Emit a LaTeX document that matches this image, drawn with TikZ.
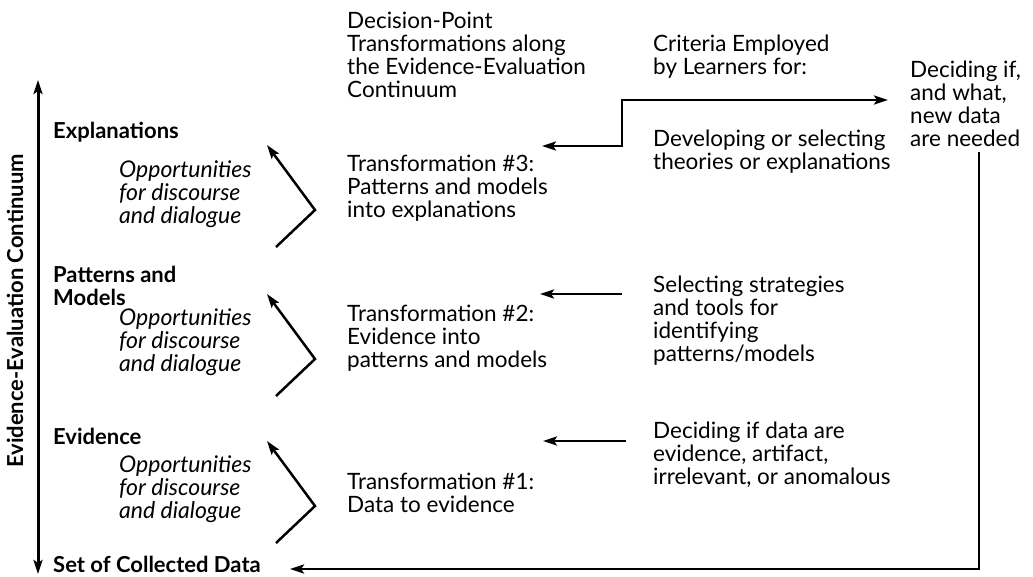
\documentclass[tikz,border=0pt]{standalone}
\usepackage{fontspec}
\setmainfont{Lato}
\usetikzlibrary{arrows.meta}

\begin{document}
\begin{tikzpicture}[x=1pt,y=-1pt,
    txt/.style={anchor=base west,align=left,inner sep=0pt,font=\fontsize{22.5}{23}\selectfont},
    lvl/.style={txt,font=\fontsize{22}{23}\selectfont\bfseries},
    opp/.style={txt,font=\fontsize{23}{23}\selectfont\itshape},
    tip/.style={-{Stealth[length=14pt,width=9pt,inset=3pt]}},
    flow/.style={line width=2.5pt,tip}]
  \useasboundingbox (0,0) rectangle (1033,576);

  \coordinate (up) at (38,80);
  \coordinate (down) at (38,574);
  \draw [line width=3pt,{Stealth[length=14pt,width=9pt,inset=3pt]}-{Stealth[length=14pt,width=9pt,inset=3pt]}] (down) -- (up);
  \node [rotate=90,inner sep=0pt,font=\fontsize{22}{23}\selectfont\bfseries] (axis) at (15,311) {Evidence-Evaluation Continuum};

  % nodes sit on the baseline of their last line
  \node [lvl] (expl) at (53,138) {Explanations};
  \node [lvl] (patt) at (53,305) {Patterns and\\Models};
  \node [lvl] (evid) at (53,444) {Evidence};
  \node [lvl] (data) at (53,572) {Set of Collected Data};

  \node [opp] (opp3) at (119,223) {Opportunities\\for discourse\\and dialogue};
  \node [opp] (opp2) at (119,371) {Opportunities\\for discourse\\and dialogue};
  \node [opp] (opp1) at (119,518) {Opportunities\\for discourse\\and dialogue};

  \node [txt] (head) at (347,97) {Decision-Point\\Transformations along\\the Evidence-Evaluation\\Continuum};
  \node [txt] (tr3) at (347,217) {Transformation \#3:\\Patterns and models\\into explanations};
  \node [txt] (tr2) at (347,367) {Transformation \#2:\\Evidence into\\patterns and models};
  \node [txt] (tr1) at (347,512.5) {Transformation \#1:\\Data to evidence};

  \node [txt] (crit) at (653,74) {Criteria Employed\\by Learners for:};
  \node [txt] (dev) at (653,169) {Developing or selecting\\theories or explanations};
  \node [txt] (sel) at (653,361.5) {Selecting strategies\\and tools for\\identifying\\patterns/models};
  \node [txt] (dec) at (653,484) {Deciding if data are\\evidence, artifact,\\irrelevant, or anomalous};
  \node [txt] (need) at (910,146) {Deciding if,\\and what,\\new data\\are needed};

  % chevrons between the levels
  \foreach \n/\dy in {3/0,2/149,1/296} {
    \coordinate (b\n) at (276,247+\dy);
    \coordinate (k\n) at (315,210+\dy);
    \coordinate (t\n) at (267,145+\dy);
    \draw [flow] (b\n) -- (k\n) -- (t\n);
  }

  \coordinate (dev-in) at (622,100);
  \coordinate (dev-out) at (888,100);
  \coordinate (tr3-in) at (542,146);
  \draw [line width=2.5pt,{Stealth[length=14pt,width=9pt,inset=3pt]}-{Stealth[length=14pt,width=9pt,inset=3pt]}] (tr3-in) -| (dev-in) -- (dev-out);

  \coordinate (sel-out) at (622,294);
  \coordinate (tr2-in) at (540,294);
  \draw [flow] (sel-out) -- (tr2-in);
  \coordinate (dec-out) at (626,441);
  \coordinate (tr1-in) at (543,441);
  \draw [flow] (dec-out) -- (tr1-in);

  \coordinate (need-out) at (979,152);
  \coordinate (data-in) at (290,569);
  \draw [line width=2.8pt,tip] (need-out) |- (data-in);
\end{tikzpicture}
\end{document}
